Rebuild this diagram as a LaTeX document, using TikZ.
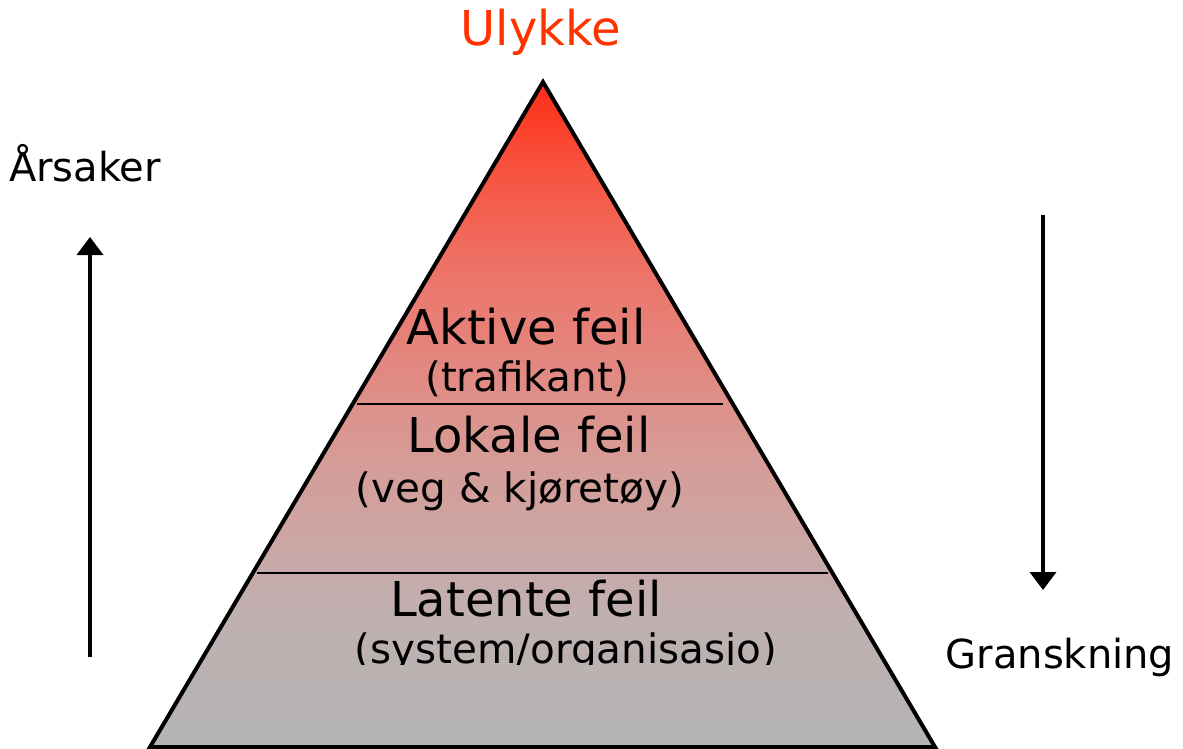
\documentclass[tikz,border=0pt]{standalone}
\usepackage{fontspec}
\setmainfont{DejaVu Sans}
\usetikzlibrary{arrows.meta}
\definecolor{ulykke}{RGB}{255,51,0}
\definecolor{pa}{RGB}{180,180,180}
\definecolor{pb}{RGB}{192,176,176}
\definecolor{pc}{RGB}{215,155,150}
\definecolor{pd}{RGB}{236,118,108}
\definecolor{pe}{RGB}{248,80,60}
\definecolor{pf}{RGB}{255,45,20}
\pgfdeclareverticalshading{pyr}{100bp}{
  color(0bp)=(pa);
  color(25bp)=(pa);
  color(35bp)=(pb);
  color(47bp)=(pc);
  color(60bp)=(pd);
  color(69bp)=(pe);
  color(75bp)=(pf);
  color(100bp)=(pf)}
\tikzset{
  mainlbl/.style={font=\fontsize{48}{52}\selectfont, anchor=base, inner sep=0pt},
  sublbl/.style={font=\fontsize{40.5}{46}\selectfont, anchor=base, inner sep=0pt},
  sidelbl/.style={font=\fontsize{40}{46}\selectfont, anchor=base, inner sep=0pt},
  layerline/.style={line width=2pt},
  dirarrow/.style={line width=3.5pt, -{Triangle[width=26pt,length=18pt]}}
}
\begin{document}
\begin{tikzpicture}[x=1pt,y=-1pt]
\useasboundingbox (0,0) rectangle (1183,749);
% pyramid
\coordinate (apex) at (543,82);
\coordinate (bl) at (150,747);
\coordinate (br) at (935,747);
\shade[shading=pyr] (apex) -- (br) -- (bl) -- cycle;
\draw[line width=4pt, line join=miter] (apex) -- (br) -- (bl) -- cycle;
% layer lines
\coordinate (l1a) at (357,404);
\coordinate (l1b) at (723,404);
\coordinate (l2a) at (257,573);
\coordinate (l2b) at (828,573);
\draw[layerline] (l1a) -- (l1b);
\draw[layerline] (l2a) -- (l2b);
% labels
\node[mainlbl, text=ulykke] (ulykke) at (541,46) {Ulykke};
\node[mainlbl] (aktive) at (526,344) {Aktive feil};
\node[sublbl] (trafikant) at (527,391) {(trafikant)};
\node[mainlbl] (lokale) at (529,452) {Lokale feil};
\node[sublbl] (veg) at (520,502) {(veg \& kjøretøy)};
\node[mainlbl] (latente) at (526,616) {Latente feil};
\begin{scope}
\clip (300,620) rectangle (850,664);
\node[sublbl] (system) at (566,663) {(system/organisasjo)};
\end{scope}
\node[sidelbl] (arsaker) at (85,181) {Årsaker};
\node[sidelbl] (gransk) at (1060,668) {Granskning};
% arrows
\coordinate (u0) at (90,657);
\coordinate (u1) at (90,237);
\coordinate (d0) at (1043,215);
\coordinate (d1) at (1043,590);
\draw[dirarrow] (u0) -- (u1);
\draw[dirarrow] (d0) -- (d1);
\end{tikzpicture}
\end{document}
